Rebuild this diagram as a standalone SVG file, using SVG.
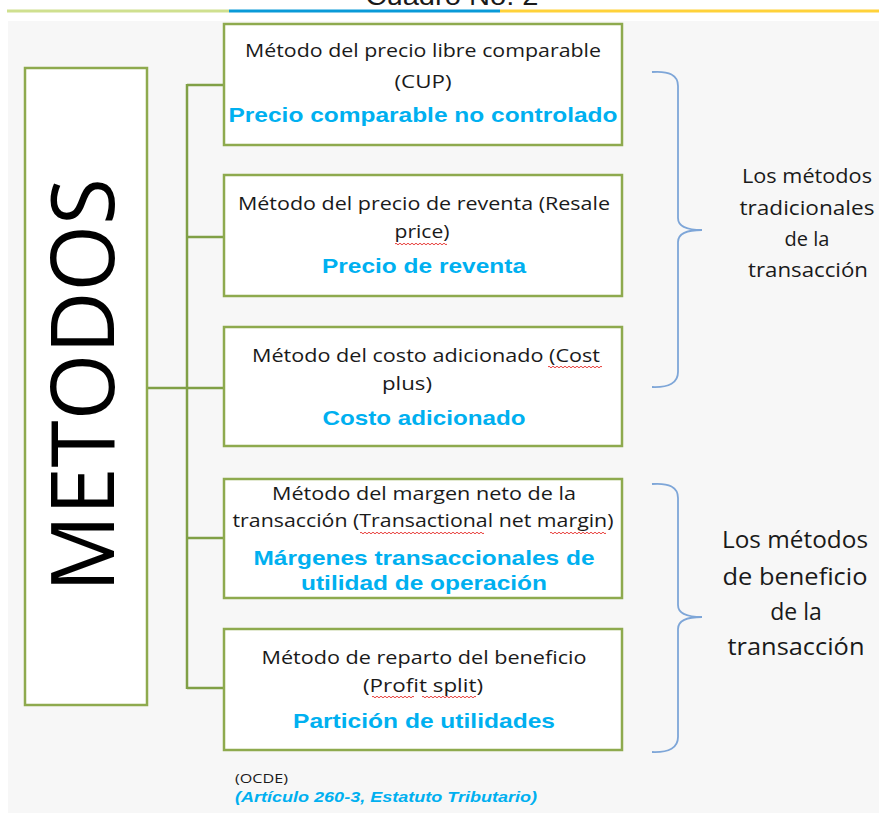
<svg xmlns="http://www.w3.org/2000/svg" width="879" height="813" viewBox="0 0 879 813">
<style>
.box{fill:#ffffff;stroke:#8eaa4e;stroke-width:2.5}
.conn{fill:none;stroke:#80a046;stroke-width:2.5}
.brace{fill:none;stroke:#7ea6d8;stroke-width:1.8}
.t{font-family:"Open Sans","Noto Sans",sans-serif;font-size:18px;fill:#1a1a1a;text-anchor:middle}
.b{font-family:"Liberation Sans",Arial,sans-serif;font-weight:bold;font-size:21px;fill:#00b0f0;text-anchor:middle}
.lab1{font-family:"Open Sans","Noto Sans",sans-serif;font-size:20px;fill:#1a1a1a;text-anchor:middle}
.lab2{font-family:"Open Sans","Noto Sans",sans-serif;font-size:23px;fill:#1a1a1a;text-anchor:middle}
.wave{fill:none;stroke:#e8403c;stroke-width:1}
</style>
<rect x="0" y="0" width="879" height="813" fill="#ffffff"/>
<rect x="8" y="21" width="871" height="792" fill="#f7f7f7"/>
<text x="452" y="5" font-family="Liberation Sans, Arial, sans-serif" font-size="26" fill="#1a1a1a" text-anchor="middle" textLength="173" lengthAdjust="spacingAndGlyphs">Cuadro No. 2</text>
<g id="topline">
<line x1="7" y1="11" x2="229" y2="11" stroke="#cfe08f" stroke-width="3"/>
<line x1="229" y1="11" x2="500" y2="11" stroke="#0a9ad8" stroke-width="3"/>
<line x1="500" y1="11" x2="879" y2="11" stroke="#ffd23a" stroke-width="3"/>
</g>
<g id="connectors">
<line class="conn" x1="147" y1="388" x2="224" y2="388"/>
<line class="conn" x1="187" y1="84" x2="187" y2="689"/>
<line class="conn" x1="187" y1="85" x2="224" y2="85"/>
<line class="conn" x1="187" y1="237" x2="224" y2="237"/>
<line class="conn" x1="187" y1="538" x2="224" y2="538"/>
<line class="conn" x1="187" y1="688" x2="224" y2="688"/>
</g>
<g id="metodos">
<rect class="box" x="25" y="68" width="122" height="637"/>
<text transform="translate(114,385) rotate(-90)" x="0" y="0" font-family="Open Sans, Noto Sans, sans-serif" font-weight="500" font-size="88" fill="#000000" text-anchor="middle" textLength="414" lengthAdjust="spacingAndGlyphs">METODOS</text>
</g>
<g id="cup">
<rect class="box" x="224" y="24" width="398" height="121"/>
<text class="t" x="423" y="57" textLength="356" lengthAdjust="spacingAndGlyphs">Método del precio libre comparable</text>
<text class="t" x="423" y="88" textLength="57" lengthAdjust="spacingAndGlyphs">(CUP)</text>
<text class="b" x="423" y="122" textLength="389" lengthAdjust="spacingAndGlyphs">Precio comparable no controlado</text>
</g>
<g id="resale">
<rect class="box" x="224" y="175" width="398" height="121"/>
<text class="t" x="424" y="210" textLength="372" lengthAdjust="spacingAndGlyphs">Método del precio de reventa (Resale</text>
<text class="t" x="422" y="238" textLength="55" lengthAdjust="spacingAndGlyphs">price)</text>
<path class="wave" d="M395,244 q1,-1.6 2,0 t2,0 t2,0 t2,0 t2,0 t2,0 t2,0 t2,0 t2,0 t2,0 t2,0 t2,0 t2,0 t2,0 t2,0 t2,0 t2,0 t2,0 t2,0 t2,0 t2,0 t2,0 t2,0 t2,0 t2,0 t2,0"/>
<text class="b" x="424" y="273" textLength="204" lengthAdjust="spacingAndGlyphs">Precio de reventa</text>
</g>
<g id="costplus">
<rect class="box" x="224" y="327" width="398" height="119"/>
<text class="t" x="426" y="362" textLength="348" lengthAdjust="spacingAndGlyphs">Método del costo adicionado (Cost</text>
<path class="wave" d="M548,367 q1,-1.6 2,0 t2,0 t2,0 t2,0 t2,0 t2,0 t2,0 t2,0 t2,0 t2,0 t2,0 t2,0 t2,0 t2,0 t2,0 t2,0 t2,0 t2,0 t2,0 t2,0 t2,0 t2,0 t2,0 t2,0 t2,0 t2,0 t2,0"/>
<text class="t" x="407" y="390" textLength="50" lengthAdjust="spacingAndGlyphs">plus)</text>
<text class="b" x="424" y="425" textLength="203" lengthAdjust="spacingAndGlyphs">Costo adicionado</text>
</g>
<g id="tnmm">
<rect class="box" x="224" y="479" width="398" height="119"/>
<text class="t" x="424" y="500" textLength="304" lengthAdjust="spacingAndGlyphs">Método del margen neto de la</text>
<text class="t" x="423" y="527" textLength="381" lengthAdjust="spacingAndGlyphs">transacción (Transactional net margin)</text>
<path class="wave" d="M360,533 q1,-1.6 2,0 t2,0 t2,0 t2,0 t2,0 t2,0 t2,0 t2,0 t2,0 t2,0 t2,0 t2,0 t2,0 t2,0 t2,0 t2,0 t2,0 t2,0 t2,0 t2,0 t2,0 t2,0 t2,0 t2,0 t2,0 t2,0 t2,0 t2,0 t2,0 t2,0 t2,0 t2,0 t2,0 t2,0 t2,0 t2,0 t2,0 t2,0 t2,0 t2,0 t2,0 t2,0 t2,0 t2,0 t2,0 t2,0 t2,0 t2,0 t2,0 t2,0 t2,0 t2,0 t2,0 t2,0 t2,0 t2,0 t2,0 t2,0 t2,0 t2,0 t2,0 t2,0"/>
<path class="wave" d="M550,533 q1,-1.6 2,0 t2,0 t2,0 t2,0 t2,0 t2,0 t2,0 t2,0 t2,0 t2,0 t2,0 t2,0 t2,0 t2,0 t2,0 t2,0 t2,0 t2,0 t2,0 t2,0 t2,0 t2,0 t2,0 t2,0 t2,0 t2,0 t2,0 t2,0"/>
<text class="b" x="424" y="565" textLength="341" lengthAdjust="spacingAndGlyphs">Márgenes transaccionales de</text>
<text class="b" x="424" y="590" textLength="246" lengthAdjust="spacingAndGlyphs">utilidad de operación</text>
</g>
<g id="profitsplit">
<rect class="box" x="224" y="629" width="398" height="121"/>
<text class="t" x="424" y="664" textLength="325" lengthAdjust="spacingAndGlyphs">Método de reparto del beneficio</text>
<text class="t" x="423" y="692" textLength="120" lengthAdjust="spacingAndGlyphs">(Profit split)</text>
<path class="wave" d="M372,697 q1,-1.6 2,0 t2,0 t2,0 t2,0 t2,0 t2,0 t2,0 t2,0 t2,0 t2,0 t2,0 t2,0 t2,0 t2,0 t2,0 t2,0 t2,0 t2,0 t2,0 t2,0 t2,0"/>
<path class="wave" d="M422,697 q1,-1.6 2,0 t2,0 t2,0 t2,0 t2,0 t2,0 t2,0 t2,0 t2,0 t2,0 t2,0 t2,0 t2,0 t2,0 t2,0 t2,0 t2,0 t2,0 t2,0 t2,0 t2,0 t2,0 t2,0 t2,0 t2,0 t2,0 t2,0"/>
<text class="b" x="424" y="728" textLength="262" lengthAdjust="spacingAndGlyphs">Partición de utilidades</text>
</g>
<g id="brace1">
<path class="brace" d="M652,72 Q678,70 678,86 L678,218 Q678,230 702,230 Q678,230 678,242 L678,372 Q678,388 652,387"/>
<text class="lab1" x="807" y="183" textLength="130" lengthAdjust="spacingAndGlyphs">Los métodos</text>
<text class="lab1" x="807" y="215" textLength="135" lengthAdjust="spacingAndGlyphs">tradicionales</text>
<text class="lab1" x="807" y="246">de la</text>
<text class="lab1" x="808" y="277" textLength="120" lengthAdjust="spacingAndGlyphs">transacción</text>
</g>
<g id="brace2">
<path class="brace" d="M652,484 Q678,482 678,498 L678,605 Q678,617 702,617 Q678,617 678,629 L678,737 Q678,753 652,752"/>
<text class="lab2" x="795" y="548" textLength="146" lengthAdjust="spacingAndGlyphs">Los métodos</text>
<text class="lab2" x="795" y="585" textLength="145" lengthAdjust="spacingAndGlyphs">de beneficio</text>
<text class="lab2" x="796" y="620">de la</text>
<text class="lab2" x="796" y="655" textLength="137" lengthAdjust="spacingAndGlyphs">transacción</text>
</g>
<g id="source">
<text x="235" y="783" font-family="Open Sans, Noto Sans, sans-serif" font-size="13" fill="#1a1a1a" textLength="53" lengthAdjust="spacingAndGlyphs">(OCDE)</text>
<text x="235" y="802" font-family="Liberation Sans, Arial, sans-serif" font-size="15" font-weight="bold" font-style="italic" fill="#00b0f0" textLength="302" lengthAdjust="spacingAndGlyphs">(Artículo 260-3, Estatuto Tributario)</text>
</g>
</svg>
